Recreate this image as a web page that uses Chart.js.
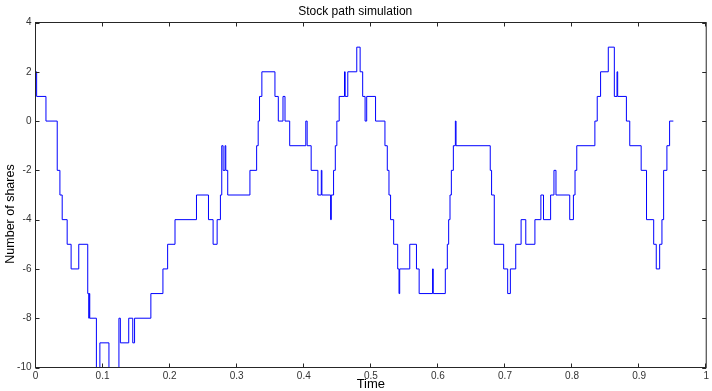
<!DOCTYPE html>
<html>
<head>
<meta charset="utf-8">
<title>Stock path simulation</title>
<script src="https://cdn.jsdelivr.net/npm/chart.js@4.4.0/dist/chart.umd.min.js"></script>
<style>
  html, body { margin: 0; padding: 0; background: #fff; }
  #wrap { width: 712px; height: 391px; }
</style>
</head>
<body>
<div id="wrap"><canvas id="pathChart" width="712" height="391"></canvas></div>
<script>
// step change points: value holds until the next time
const times = [
  0, 0.0017, 0.0156, 0.0324, 0.0364, 0.0398, 0.0472, 0.0531, 0.0645, 0.0779,
  0.0795, 0.0800, 0.0809, 0.0908, 0.0960, 0.1095, 0.1244, 0.1265, 0.139, 0.145,
  0.1477, 0.172, 0.190, 0.197, 0.208, 0.240, 0.2579, 0.2648, 0.2708, 0.2757,
  0.2777, 0.2797, 0.2826, 0.2837, 0.2866, 0.3197, 0.3297, 0.332, 0.334, 0.3375,
  0.357, 0.362, 0.369, 0.372, 0.379, 0.403, 0.405, 0.411, 0.421, 0.4261,
  0.427, 0.440, 0.441, 0.4444, 0.447, 0.4493, 0.4528, 0.4607, 0.4617, 0.4656,
  0.479, 0.484, 0.4878, 0.4914, 0.4938, 0.507, 0.521, 0.5245, 0.527, 0.5294,
  0.534, 0.540, 0.542, 0.543, 0.558, 0.568, 0.572, 0.592, 0.593, 0.611,
  0.614, 0.616, 0.618, 0.620, 0.623, 0.626, 0.627, 0.678, 0.680, 0.684,
  0.698, 0.704, 0.708, 0.716, 0.724, 0.731, 0.7446, 0.7535, 0.7574, 0.768,
  0.773, 0.776, 0.7965, 0.802, 0.8044, 0.807, 0.834, 0.8375, 0.8425, 0.854,
  0.863, 0.867, 0.868, 0.881, 0.886, 0.903, 0.911, 0.9217, 0.9255, 0.9306,
  0.934, 0.9365, 0.9414, 0.9454, 0.951
];
const shares = [
  2, 1, 0, -2, -3, -4, -5, -6, -5, -7,
  -8, -7, -8, -11, -9, -11, -8, -9, -8, -9,
  -8, -7, -6, -5, -4, -3, -4, -5, -4, -3,
  -1, -2, -1, -2, -3, -2, -1, 0, 1, 2,
  1, 0, 1, 0, -1, 0, -1, -2, -3, -2,
  -3, -4, -3, -2, -1, 0, 1, 2, 1, 2,
  3, 2, 1, 0, 1, 0, -1, -2, -3, -4,
  -5, -6, -7, -6, -5, -6, -7, -6, -7, -6,
  -5, -4, -3, -2, -1, 0, -1, -2, -3, -5,
  -6, -7, -6, -5, -4, -5, -4, -3, -4, -3,
  -2, -3, -4, -3, -2, -1, 0, 1, 2, 3,
  1, 2, 1, 0, -1, -2, -4, -5, -6, -5,
  -4, -2, -1, 0, 0
];

const xTicks = [0, 0.1, 0.2, 0.3, 0.4, 0.5, 0.6, 0.7, 0.8, 0.9, 1];
const xTickLabels = ['0', '0.1', '0.2', '0.3', '0.4', '0.5', '0.6', '0.7', '0.8', '0.9', '1'];
const yTicks = [-10, -8, -6, -4, -2, 0, 2, 4];
const yTickLabels = ['-10', '-8', '-6', '-4', '-2', '0', '2', '4'];
const yTitle = 'Number of shares';

const AXIS_COLOR = '#262626';
const FONT = "'Liberation Sans', Arial, Helvetica, sans-serif";

// MATLAB style: closed box with ticks pointing inward on all four sides
const boxTicks = {
  id: 'boxTicks',
  afterDatasetsDraw(chart) {
    const { ctx, chartArea: a, scales: { x, y } } = chart;
    const len = 4;
    ctx.save();
    ctx.strokeStyle = AXIS_COLOR;
    ctx.lineWidth = 1;
    ctx.strokeRect(a.left, a.top, a.right - a.left, a.bottom - a.top);
    ctx.beginPath();
    x.ticks.forEach(t => {
      const px = Math.round(x.getPixelForValue(t.value)) - 0.5;
      ctx.moveTo(px, a.bottom); ctx.lineTo(px, a.bottom - len);
      ctx.moveTo(px, a.top); ctx.lineTo(px, a.top + len);
    });
    y.ticks.forEach(t => {
      const py = Math.round(y.getPixelForValue(t.value)) + 0.5;
      ctx.moveTo(a.left, py); ctx.lineTo(a.left + len, py);
      ctx.moveTo(a.right, py); ctx.lineTo(a.right - len, py);
    });
    ctx.stroke();

    // y label sits a bit below the axis middle in the original
    ctx.translate(11, (a.top + a.bottom) / 2 + 19);
    ctx.rotate(-Math.PI / 2);
    ctx.fillStyle = '#000';
    ctx.font = '12.5px ' + FONT;
    ctx.textAlign = 'center';
    ctx.textBaseline = 'middle';
    ctx.fillText(yTitle, 0, 0);
    ctx.restore();
  }
};

new Chart(document.getElementById('pathChart'), {
  type: 'line',
  data: {
    datasets: [{
      label: 'shares',
      data: times.map((t, i) => ({ x: t, y: shares[i] })),
      borderColor: '#0000ff',
      borderWidth: 1,
      pointRadius: 0,
      stepped: true,
      fill: false
    }]
  },
  options: {
    responsive: false,
    animation: false,
    layout: { padding: { left: 0, right: 1.5, top: 0, bottom: 0 } },
    plugins: {
      legend: { display: false },
      tooltip: { enabled: false },
      title: {
        display: true,
        text: 'Stock path simulation',
        color: '#000',
        font: { family: FONT, size: 12, weight: 'normal', lineHeight: 1.2 },
        padding: { top: 4, bottom: 4.1 }
      }
    },
    scales: {
      x: {
        type: 'linear',
        min: 0, max: 1,
        afterBuildTicks: s => { s.ticks = xTicks.map(v => ({ value: v })); },
        afterFit: s => { s.height = 23.5; },
        grid: { display: false, drawTicks: false },
        border: { display: false },
        ticks: {
          padding: 3,
          color: '#333',
          font: { family: FONT, size: 10 },
          maxRotation: 0,
          callback: (v, i) => xTickLabels[i]
        },
        title: {
          display: true,
          text: 'Time',
          color: '#000',
          font: { family: FONT, size: 13, lineHeight: 1 },
          padding: { top: 0, bottom: 0 }
        }
      },
      y: {
        min: -10, max: 4,
        afterBuildTicks: s => { s.ticks = yTicks.map(v => ({ value: v })); },
        afterFit: s => { s.width = 35.5; },
        grid: { display: false, drawTicks: false },
        border: { display: false },
        ticks: {
          padding: 4,
          color: '#333',
          font: { family: FONT, size: 10 },
          callback: (v, i) => yTickLabels[i]
        }
      }
    }
  },
  plugins: [boxTicks]
});
</script>
</body>
</html>
